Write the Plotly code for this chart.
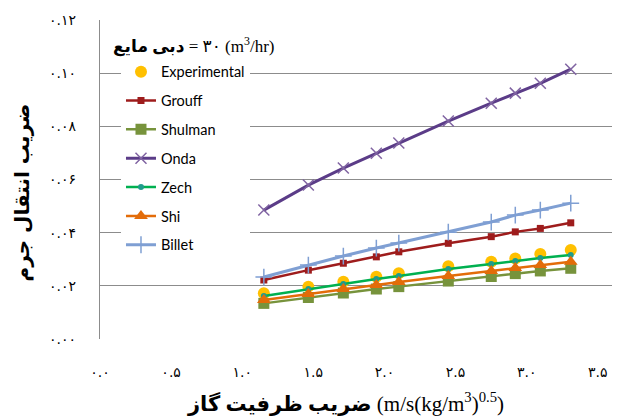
import plotly.graph_objects as go

# ---- data ----
x_vals = [1.152, 1.465, 1.711, 1.943, 2.101, 2.449, 2.751, 2.920, 3.096, 3.310]

experimental = [0.0172, 0.0197, 0.0215, 0.0234, 0.0247, 0.0274, 0.0291, 0.0303, 0.0320, 0.0335]
grouff       = [0.0222, 0.0259, 0.0285, 0.0309, 0.0328, 0.0360, 0.0385, 0.0403, 0.0416, 0.0437]
shulman      = [0.0134, 0.0156, 0.0173, 0.0188, 0.0197, 0.0218, 0.0235, 0.0246, 0.0256, 0.0266]
onda         = [0.0485, 0.0579, 0.0643, 0.0699, 0.0737, 0.0820, 0.0887, 0.0925, 0.0962, 0.1015]
zech         = [0.0162, 0.0188, 0.0207, 0.0226, 0.0237, 0.0263, 0.0282, 0.0293, 0.0305, 0.0316]
shi          = [0.0147, 0.0169, 0.0188, 0.0203, 0.0214, 0.0237, 0.0256, 0.0267, 0.0278, 0.0291]
billet       = [0.0233, 0.0278, 0.0312, 0.0342, 0.0361, 0.0402, 0.0440, 0.0466, 0.0485, 0.0511]

y_tickvals = [0.00, 0.02, 0.04, 0.06, 0.08, 0.10, 0.12]
y_ticktext = ["۰.۰۰", "۰.۰۲", "۰.۰۴", "۰.۰۶", "۰.۰۸", "۰.۱۰", "۰.۱۲"]
x_tickvals = [0.0, 0.5, 1.0, 1.5, 2.0, 2.5, 3.0, 3.5]
x_ticktext = ["۰.۰", "۰.۵", "۱.۰", "۱.۵", "۲.۰", "۲.۵", "۳.۰", "۳.۵"]

x_title = "<b>ضریب ظرفیت گاز</b>\u200e (m/s(kg/m<sup>3</sup>)<sup>0.5</sup>)"
y_title = "<b>ضریب انتقال جرم</b>"
flow_title = "<b>دبی مایع</b>\u200e = ۳۰ (m<sup>3</sup>/hr)"

fig = go.Figure()

series = [
    ("Experimental", experimental, dict(mode="markers", marker=dict(symbol="circle", size=12, color="#FFC000"))),
    ("Grouff", grouff, dict(mode="lines+markers", line=dict(color="#9E1C1C", width=2.5),
                            marker=dict(symbol="square", size=7, color="#9E1C1C"))),
    ("Shulman", shulman, dict(mode="lines+markers", line=dict(color="#77933C", width=2.5),
                              marker=dict(symbol="square", size=11, color="#77933C"))),
    ("Onda", onda, dict(mode="lines+markers", line=dict(color="#5B3C88", width=3),
                        marker=dict(symbol="x-thin", size=11, line=dict(color="#8064A2", width=1.5)))),
    ("Zech", zech, dict(mode="lines+markers", line=dict(color="#00B050", width=2.5),
                        marker=dict(symbol="circle", size=6, color="#1F9C8C"))),
    ("Shi", shi, dict(mode="lines+markers", line=dict(color="#E36C09", width=2.5),
                      marker=dict(symbol="triangle-up", size=12, color="#E36C09"))),
    ("Billet", billet, dict(mode="lines+markers", line=dict(color="#7F9FD3", width=3),
                            marker=dict(symbol="cross-thin", size=12, line=dict(color="#7F9FD3", width=1.5)))),
]

for name, ys, style in series:
    fig.add_trace(go.Scatter(x=x_vals, y=ys, name=name, legendgroup=name, **style))

fig.update_layout(
    width=625, height=419,
    margin=dict(l=100, r=13, t=20, b=80),
    plot_bgcolor="white", paper_bgcolor="white",
    showlegend=True,
    legend=dict(x=0.041, y=0.888, xanchor="left", yanchor="top",
                bgcolor="white", font=dict(family="Lato", size=14.5, color="black"),
                tracegroupgap=7, itemwidth=30),
    font=dict(family="DejaVu Sans", color="black"),
)

fig.update_xaxes(range=[0, 3.6], tickvals=x_tickvals, ticktext=x_ticktext,
                 showgrid=False, showline=False, zeroline=False,
                 ticks="outside", ticklen=20, tickcolor="rgba(0,0,0,0)",
                 tickfont=dict(family="DejaVu Sans", size=14, color="black"))
fig.update_yaxes(range=[0, 0.12], tickvals=y_tickvals, ticktext=y_ticktext,
                 showgrid=True, gridcolor="#8C8C8C", gridwidth=1.2,
                 zeroline=True, zerolinecolor="white",
                 showline=True, linecolor="#8C8C8C", linewidth=1.2,
                 ticks="outside", ticklen=20, tickcolor="rgba(0,0,0,0)",
                 tickfont=dict(family="DejaVu Sans", size=14, color="black"))

fig.add_annotation(text=x_title, xref="paper", yref="paper", x=0.48, y=-0.2,
                   xanchor="center", yanchor="middle", showarrow=False,
                   font=dict(family="Liberation Serif, DejaVu Sans", size=21, color="black"))
fig.add_annotation(text=y_title, xref="paper", yref="paper", x=-0.152, y=0.46,
                   xanchor="center", yanchor="middle", textangle=-90, showarrow=False,
                   font=dict(family="DejaVu Sans", size=20, color="black"))
fig.add_annotation(text=flow_title, xref="paper", yref="paper", x=0.022, y=0.92,
                   xanchor="left", yanchor="middle", showarrow=False,
                   font=dict(family="Liberation Serif, DejaVu Sans", size=17, color="black"))

fig.write_html("out.html", config={"displayModeBar": False},
               post_script="document.body.style.margin='0';")
